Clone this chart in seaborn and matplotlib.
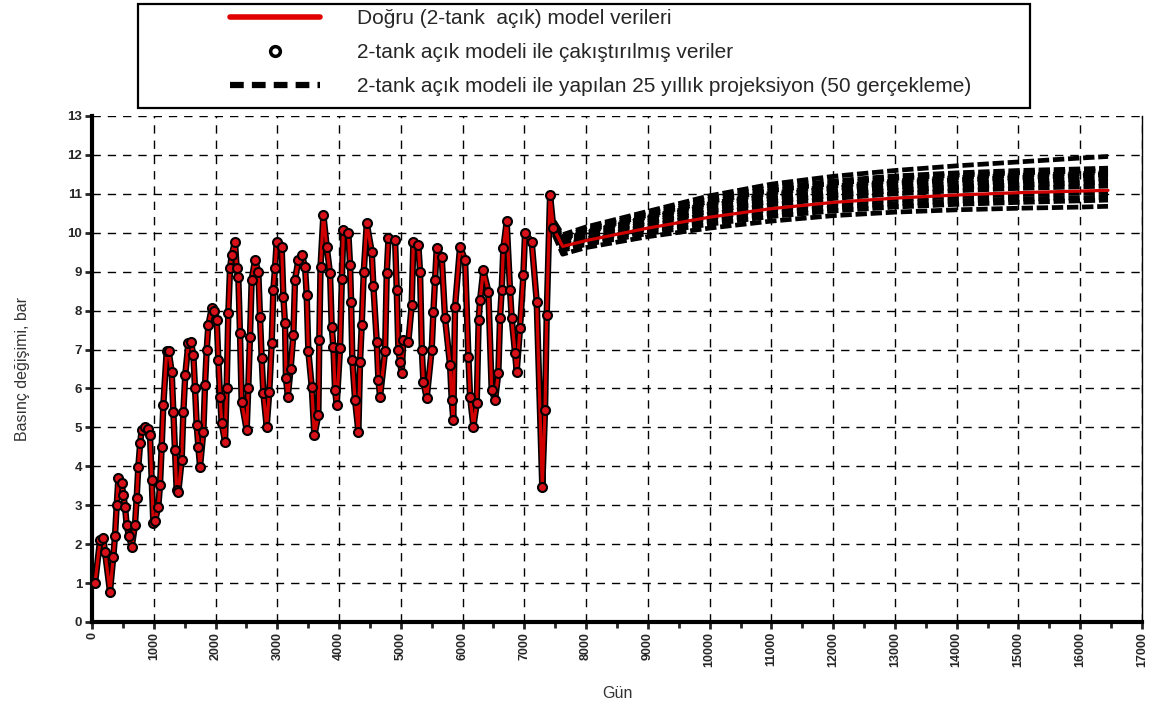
import numpy as np
import pandas as pd
import matplotlib
matplotlib.use("Agg")
import matplotlib.pyplot as plt
import seaborn as sns
from matplotlib.lines import Line2D
from matplotlib.patches import Rectangle

# ---------------- data ----------------
hist_days = [50, 130, 183, 210, 291, 345, 372, 400, 427, 480, 508, 535, 561, 600, 643, 696, 723, 750,
             780, 804, 858, 900, 939, 966, 993, 1020, 1074, 1101, 1128, 1155, 1209, 1240, 1290, 1317,
             1344, 1370, 1398, 1452, 1479, 1510, 1560, 1600, 1641, 1668, 1695, 1722, 1749, 1803, 1830,
             1857, 1884, 1938, 1980, 2019, 2046, 2073, 2100, 2154, 2180, 2207, 2235, 2262, 2315, 2342,
             2369, 2396, 2423, 2504, 2530, 2558, 2585, 2639, 2693, 2720, 2747, 2774, 2828, 2870, 2909,
             2936, 2963, 2990, 3071, 3098, 3125, 3140, 3170, 3215, 3260, 3287, 3341, 3395, 3449, 3476,
             3503, 3557, 3600, 3665, 3680, 3700, 3746, 3800, 3854, 3881, 3908, 3935, 3962, 4016, 4045,
             4070, 4151, 4178, 4195, 4215, 4259, 4313, 4340, 4367, 4400, 4448, 4529, 4556, 4610, 4637,
             4664, 4745, 4772, 4800, 4907, 4934, 4960, 4987, 5014, 5041, 5122, 5176, 5203, 5284, 5311,
             5340, 5365, 5419, 5500, 5527, 5554, 5581, 5662, 5716, 5797, 5824, 5850, 5878, 5959, 6040,
             6094, 6121, 6175, 6229, 6260, 6283, 6336, 6417, 6471, 6525, 6579, 6606, 6633, 6660, 6714,
             6768, 6795, 6850, 6876, 6930, 6984, 7011, 7119, 7200, 7290, 7335, 7362, 7416, 7470]
hist_vals = [1.0, 2.1, 2.15, 1.8, 0.78, 1.68, 2.2, 3.0, 3.69, 3.56, 3.26, 2.96, 2.49, 2.2, 1.93, 2.49, 3.18, 3.99,
             4.6, 4.93, 5.02, 4.95, 4.8, 3.65, 2.54, 2.6, 2.96, 3.52, 4.5, 5.58, 6.95, 6.97, 6.43, 5.4,
             4.42, 3.4, 3.35, 4.16, 5.4, 6.35, 7.16, 7.2, 6.86, 6.0, 5.06, 4.5, 3.99, 4.89, 6.09,
             7.0, 7.63, 8.06, 8.0, 7.76, 6.73, 5.79, 5.1, 4.63, 6.0, 7.93, 9.09, 9.43, 9.77, 9.1,
             8.87, 7.42, 5.66, 4.93, 6.0, 7.33, 8.79, 9.3, 9.0, 7.84, 6.77, 5.88, 5.02, 5.9, 7.16,
             8.53, 9.09, 9.77, 9.64, 8.36, 7.67, 6.26, 5.79, 6.5, 7.37, 8.79, 9.3, 9.43, 9.13, 8.4,
             6.95, 6.05, 4.8, 5.32, 7.25, 9.13, 10.46, 9.64, 8.96, 7.59, 7.07, 5.96, 5.58, 7.03, 8.8,
             10.07, 9.99, 9.17, 8.23, 6.73, 5.7, 4.89, 6.69, 7.63, 9.0, 10.24, 9.51, 8.62, 7.2, 6.22,
             5.79, 6.95, 8.96, 9.86, 9.81, 8.53, 7.0, 6.69, 6.39, 7.25, 7.2, 8.14, 9.77, 9.69, 9.0,
             7.0, 6.17, 5.75, 7.0, 7.97, 8.79, 9.6, 9.39, 7.8, 6.6, 5.7, 5.19, 8.1, 9.64, 9.3,
             6.82, 5.79, 5.02, 5.62, 7.76, 8.27, 9.04, 8.49, 5.96, 5.7, 6.39, 7.8, 8.53, 9.6, 10.29,
             8.53, 7.8, 6.9, 6.43, 7.55, 8.92, 9.99, 9.77, 8.23, 3.48, 5.45, 7.89, 10.97, 10.12]

proj_days = [7480, 7620, 8000, 9000, 10000, 11000, 12000, 13000, 14000, 15000, 16000, 16450]
true_proj = [10.1, 9.65, 9.8, 10.12, 10.4, 10.62, 10.78, 10.89, 10.97, 11.03, 11.07, 11.09]
proj_realizations = [
    [10.3, 9.95, 10.15, 10.55, 10.95, 11.25, 11.45, 11.6, 11.72, 11.82, 11.92, 11.96],
    [10.25, 9.9, 10.1, 10.5, 10.87, 11.15, 11.33, 11.46, 11.54, 11.6, 11.64, 11.66],
    [10.2, 9.85, 10.05, 10.45, 10.8, 11.08, 11.27, 11.4, 11.48, 11.54, 11.58, 11.6],
    [10.2, 9.82, 10.02, 10.41, 10.75, 11.02, 11.2, 11.33, 11.42, 11.48, 11.52, 11.54],
    [10.2, 9.8, 10.0, 10.38, 10.7, 10.97, 11.15, 11.28, 11.36, 11.42, 11.47, 11.5],
    [10.15, 9.75, 9.95, 10.3, 10.62, 10.88, 11.05, 11.18, 11.27, 11.33, 11.38, 11.4],
    [10.1, 9.7, 9.9, 10.25, 10.55, 10.8, 10.96, 11.08, 11.17, 11.23, 11.28, 11.3],
    [10.1, 9.68, 9.85, 10.18, 10.48, 10.72, 10.88, 11.0, 11.08, 11.14, 11.18, 11.2],
    [10.08, 9.64, 9.8, 10.1, 10.38, 10.6, 10.75, 10.86, 10.93, 10.98, 11.02, 11.04],
    [10.05, 9.6, 9.75, 10.05, 10.3, 10.5, 10.65, 10.75, 10.82, 10.87, 10.9, 10.92],
    [10.0, 9.55, 9.7, 9.98, 10.22, 10.42, 10.56, 10.66, 10.73, 10.78, 10.82, 10.84],
    [9.95, 9.45, 9.62, 9.9, 10.12, 10.3, 10.44, 10.53, 10.59, 10.63, 10.66, 10.68],
]

legend_labels = ["Doğru (2-tank  açık) model verileri",
                 "2-tank açık modeli ile çakıştırılmış veriler",
                 "2-tank açık modeli ile yapılan 25 yıllık projeksiyon (50 gerçekleme)"]
x_ticks = list(range(0, 17001, 1000))
y_ticks = list(range(0, 14))

# ---------------- frames ----------------
hist_df = pd.DataFrame({"day": hist_days, "val": hist_vals})
true_df = pd.DataFrame({"day": hist_days + proj_days[1:], "val": hist_vals + true_proj[1:]})
rows = []
for i, r in enumerate(proj_realizations):
    for d, v in zip(proj_days, r):
        rows.append({"day": d, "val": v, "real": i})
proj_df = pd.DataFrame(rows)

# ---------------- plot ----------------
sns.set_style("white")
plt.rcParams["font.family"] = ["Liberation Sans", "DejaVu Sans"]

W, H = 1157, 709
fig = plt.figure(figsize=(W / 100, H / 100), dpi=100)
ax = fig.add_axes([92 / W, 1 - 622 / H, (1142 - 92) / W, (622 - 116) / H])

# black backdrop of history (realizations overlap history)
sns.lineplot(data=hist_df, x="day", y="val", ax=ax, color="black", lw=4.6, sort=False,
             estimator=None, zorder=3)
# projection realizations
sns.lineplot(data=proj_df, x="day", y="val", units="real", estimator=None, ax=ax,
             color="black", lw=3.4, zorder=3, legend=False)
for line in ax.lines[1:]:
    line.set_dashes((2.4, 0.8))
# true model line
sns.lineplot(data=true_df, x="day", y="val", ax=ax, color="#d00000", lw=2.3, sort=False,
             estimator=None, zorder=4)
# fitted data markers
sns.scatterplot(data=hist_df, x="day", y="val", ax=ax, s=42, color="#d8101a",
                edgecolor="black", linewidth=1.5, zorder=5)

ax.set_xlim(0, 17000)
ax.set_ylim(0, 13)
ax.set_xticks(x_ticks)
ax.set_xticks(list(range(500, 17000, 1000)), minor=True)
ax.set_yticks(y_ticks)
ax.set_xticklabels([str(t) for t in x_ticks], rotation=90, fontsize=9, fontweight="bold")
ax.set_yticklabels([str(t) for t in y_ticks], fontsize=9.5, fontweight="bold")
ax.tick_params(axis="both", which="major", direction="out", length=5, width=2, pad=2,
               left=True, bottom=True)
ax.tick_params(axis="x", which="minor", direction="out", length=4, width=2, bottom=True)

ax.grid(True, which="major", color="black", linestyle=(0, (6, 5)), lw=1.0)
ax.set_axisbelow(True)

for side in ["left", "bottom"]:
    ax.spines[side].set_linewidth(3)
    ax.spines[side].set_color("black")
ax.spines["top"].set_visible(False)
ax.spines["right"].set_linewidth(1.0)
ax.spines["right"].set_color("black")

ax.set_xlabel("Gün", fontsize=11.5, color="#333333", labelpad=14)
ax.set_ylabel("Basınç değişimi, bar", fontsize=11.5, color="#333333", labelpad=27)

# legend frame drawn by hand, legend entries inside
fig.patches.append(Rectangle((138 / W, 1 - 108 / H), (1030 - 138) / W, (108 - 4) / H,
                             transform=fig.transFigure, fill=False, edgecolor="black",
                             lw=1.6, zorder=10))
handles = [
    Line2D([0], [0], color="#e00000", lw=4),
    Line2D([0], [0], color="none", marker="o", markersize=7, markerfacecolor="white",
           markeredgecolor="black", markeredgewidth=2.5),
    Line2D([0], [0], color="black", lw=4.5, linestyle=(0, (2.2, 1.3))),
]
leg = fig.legend(handles, legend_labels, loc="upper left", bbox_to_anchor=(230 / W, 1 - 9 / H),
                 fontsize=15, frameon=False, handlelength=4.3, handletextpad=1.8,
                 labelspacing=0.72, borderpad=0, borderaxespad=0)

fig.savefig("out.png", dpi=100)
